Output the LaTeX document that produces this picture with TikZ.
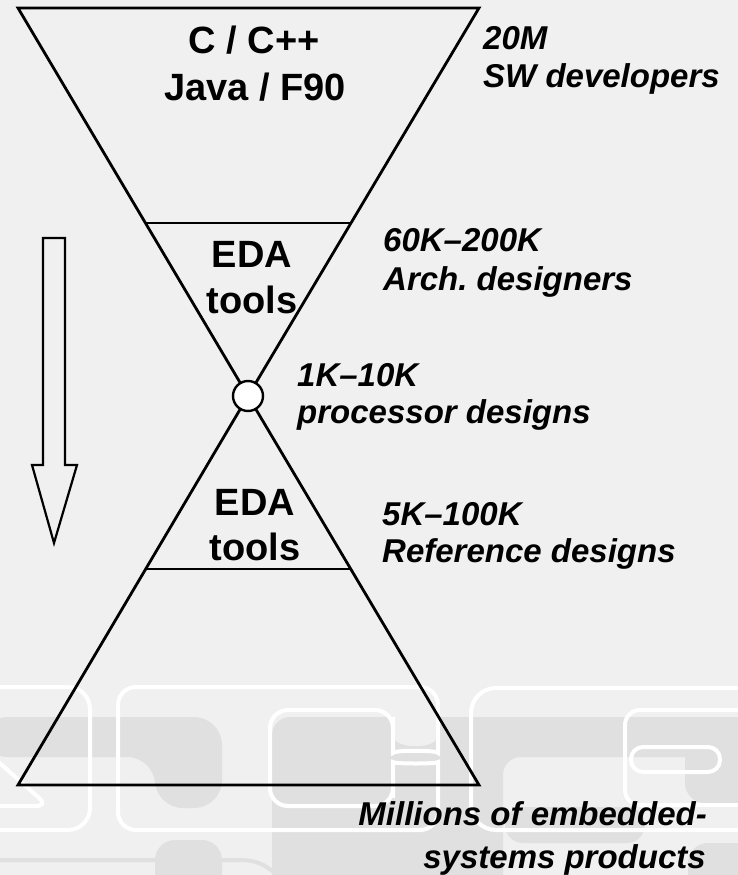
\documentclass[tikz,border=0pt]{standalone}
\usepackage{fontspec}
\setmainfont{Liberation Sans}
\usetikzlibrary{calc}
\definecolor{bgc}{RGB}{240,240,240}
\definecolor{dkc}{RGB}{224,224,224}
\frenchspacing
\begin{document}
\begin{tikzpicture}[x=1pt,y=-1pt,
  hg/.style={line width=2.8pt, black},
  big/.style={font=\fontsize{38}{44}\selectfont\bfseries, inner sep=0pt, anchor=base},
  lab/.style={font=\fontsize{33}{39}\selectfont\bfseries\itshape, inner sep=0pt, anchor=base west},
  labr/.style={lab, anchor=base east},
  wline/.style={white, line width=4pt},
  dk/.style={fill=dkc}]
\useasboundingbox (0,0) rectangle (738,875);
% ---------- background decoration ----------
\begin{scope}
\clip (0,0) rectangle (738,875);
\fill[bgc] (0,0) rectangle (738,875);
% dark shapes
\fill[dk, rounded corners=28] (-20,717) -- (222,717) -- (222,808) -- (155,808) -- (155,757) -- (-20,757) -- cycle;
\fill[dk, rounded corners=18] (272,900) -- (272,717) -- (760,717) -- (760,757) -- (503,757) -- (503,900) -- cycle;
\fill[dk, rounded corners=20] (760,740) -- (685,740) -- (685,803) -- (760,803) -- cycle;
\fill[dk, rounded corners=18] (505,807) rectangle (645,843);
\fill[dk, rounded corners=20] (155,840) rectangle (222,900);
\fill[dk, rounded corners=20] (688,843) rectangle (760,900);
\fill[bgc] (393,700) -- (393,735) .. controls (393,750) and (438,750) .. (438,735) -- (438,700) -- cycle;
\draw[dkc, line width=4pt] (-5,860) -- (240,860) .. controls (258,860) and (268,866) .. (280,878);
% white outlines
\draw[wline, rounded corners=22] (-30,687) rectangle (90,830);
\draw[wline] (-5,759) -- (38,797) .. controls (46,804) and (42,806) .. (34,806) -- (-5,806);
\draw[wline, rounded corners=18] (118,760) -- (118,687) -- (438,687) -- (438,735)
   .. controls (438,750) and (393,750) .. (393,735) -- (393,710) -- (270,710) -- (270,806)
   -- (393,806) -- (393,780) .. controls (393,764) and (438,764) .. (438,780)
   -- (438,830) -- (118,830) -- cycle;
\draw[wline, rounded corners=25] (770,688) -- (471,688) -- (471,830) -- (770,830);
\draw[wline, rounded corners=15] (770,710) -- (625,710) -- (625,805) -- (770,805);
\draw[wline, rounded corners=12] (631,747) rectangle (720,772);
\end{scope}
% ---------- hourglass ----------
\coordinate (tl) at (18,8);
\coordinate (tr) at (479,8);
\coordinate (c) at (248,396);
\coordinate (bl) at (18,785);
\coordinate (br) at (479,785);
\draw[hg] (tl) -- (tr) -- (c) -- cycle;
\draw[hg] (bl) -- (br) -- (c) -- cycle;
\draw[hg] ($(tl)!0.5541!(c)$) -- ($(tr)!0.5541!(c)$);
\draw[hg] ($(bl)!0.5553!(c)$) -- ($(br)!0.5553!(c)$);
\node[circle, draw, fill=white, line width=2.4pt, minimum size=30pt, inner sep=0pt] (knot) at (c) {};
% ---------- arrow ----------
\coordinate (a1) at (43,238);
\coordinate (a2) at (65,238);
\coordinate (a3) at (65,465);
\coordinate (a4) at (77,465);
\coordinate (a5) at (54,543);
\coordinate (a6) at (32,465);
\coordinate (a7) at (43,465);
\draw[line width=2.2pt] (a1) -- (a2) -- (a3) -- (a4) -- (a5) -- (a6) -- (a7) -- cycle;
% ---------- texts ----------
\node[big] (t1) at (254,53) {C / C++};
\node[big] (t2) at (255,100) {Java / F90};
\node[big] (e1) at (252,267) {EDA};
\node[big] (e2) at (252,313) {tools};
\node[big] (e3) at (255,515) {EDA};
\node[big] (e4) at (255,560) {tools};
\node[lab] (l1) at (483,49) {20M};
\node[lab] (l2) at (483,88) {SW developers};
\node[lab] (l3) at (383,251) {60K–200K};
\node[lab] (l4) at (383,290) {Arch. designers};
\node[lab] (l5) at (297,386) {1K–10K};
\node[lab] (l6) at (297,423) {processor designs};
\node[lab] (l7) at (382,525) {5K–100K};
\node[lab] (l8) at (382,562) {Reference designs};
\node[labr] (l9) at (707,825) {Millions of embedded-};
\node[labr] (l10) at (706,868) {systems products};
\end{tikzpicture}
\end{document}
